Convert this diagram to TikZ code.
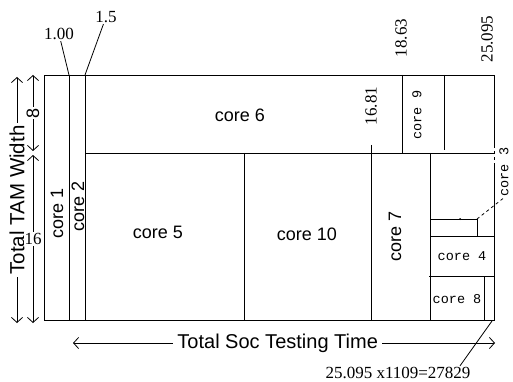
\documentclass[tikz,border=0pt]{standalone}
\usepackage{fontspec}
\setmainfont{Liberation Sans}
\newfontfamily\numfnt{Liberation Serif}
\newfontfamily\crfnt{Liberation Mono}
\usetikzlibrary{arrows.meta}
\tikzset{lbl/.style={font=\fontsize{18}{18}\selectfont,inner sep=1pt},
  num/.style={font=\numfnt\fontsize{17}{17}\selectfont,inner sep=1pt},
  mono/.style={font=\crfnt\fontsize{13.5}{13.5}\selectfont,inner sep=1pt},
  dim/.style={{Straight Barb[length=5pt,width=11pt]}-{Straight Barb[length=5pt,width=11pt]}}}
\begin{document}
\begin{tikzpicture}[x=1pt,y=-1pt,line width=0.8pt]
  \useasboundingbox (0,0) rectangle (513,382);
  % outline and cuts
  \draw (494,145) -- (494,75) -- (44,75) -- (44,320) -- (494,320) -- (494,165); \draw[dashed] (494,145) -- (494,165);
  \draw (69,75) -- (69,320); \draw (85,75) -- (85,320); \draw (85,153) -- (494,153);
  \draw (402,75) -- (402,153); \draw (444,75) -- (444,150); \draw (371,145) -- (371,320);
  \draw (244,153) -- (244,320); \draw (430,153) -- (430,320);
  \draw (431,219) -- (477,219) -- (477,236); \draw (431,236) -- (494,236); \draw (429,276) -- (494,276); \draw (484,276) -- (484,320);
  \fill (460,219) circle (1pt);
  \coordinate (c1top) at (69,75); \coordinate (c2top) at (85,75); \coordinate (c3pt) at (477,219); \coordinate (tend) at (492,321);
  % cores
  \node[lbl,rotate=90] (core1) at (57,213) {core 1}; \node[lbl,rotate=90] (core2) at (78,206) {core 2};
  \node[lbl] (core6) at (240,115) {core 6}; \node[lbl] (core5) at (158,232) {core 5}; \node[lbl] (core10) at (307,234) {core 10};
  \node[lbl,rotate=90] (core7) at (395,236) {core 7}; \node[mono,rotate=90] (core9) at (417,115) {core 9};
  \node[mono] (core4) at (462,256) {core 4}; \node[mono] (core8) at (457,299) {core 8}; \node[mono,rotate=90] (core3) at (504,172) {core 3};
  \draw[dashed] (c3pt) -- (core3.west);
  % time marks
  \node[num] (t100) at (59,34) {1.00}; \node[num] (t15) at (106,17) {1.5}; \draw (t100) -- (c1top); \draw (t15) -- (c2top);
  \node[num,rotate=90] (t1681) at (371,106) {16.81}; \node[num,rotate=90] (t1863) at (401,38) {18.63}; \node[num,rotate=90] (t25095) at (487,39) {25.095};
  % widths
  \coordinate (tama) at (17,77); \coordinate (tamb) at (17,323);
  \draw[dim] (tama) -- node[lbl,rotate=90,fill=white,inner sep=0pt,inner xsep=3pt,font=\fontsize{20.5}{20.5}\selectfont] (tam) {Total TAM Width} (tamb);
  \coordinate (w8a) at (33,75); \coordinate (w8b) at (33,151); \coordinate (w16a) at (33,155); \coordinate (w16b) at (33,323);
  \draw[dim] (w8a) -- node[lbl,rotate=90,fill=white] (w8) {8} (w8b);
  \draw[dim] (w16a) -- node[num,fill=white] (w16) {16} (w16b);
  % time axis
  \coordinate (soca) at (73,343); \coordinate (socb) at (495,343);
  \draw[dim] (soca) -- node[lbl,pos=0.485,fill=white,inner xsep=4pt,font=\fontsize{20}{20}\selectfont] (soc) {Total Soc Testing Time} (socb);
  \node[num] (total) at (398,373) {25.095 x1109=27829}; \draw (tend) -- ([xshift=62pt]total.north);
\end{tikzpicture}
\end{document}
